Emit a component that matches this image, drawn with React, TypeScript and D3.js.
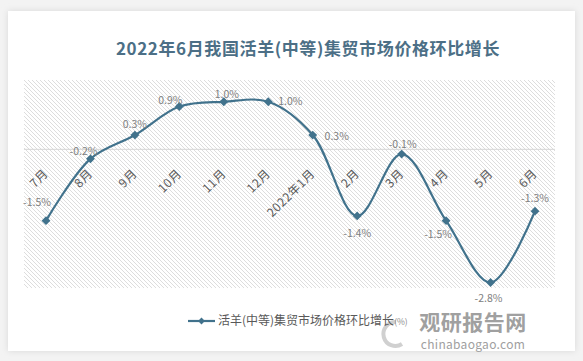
import React from "react";
import * as d3 from "d3";

const months = ["7月", "8月", "9月", "10月", "11月", "12月", "2022年1月", "2月", "3月", "4月", "5月", "6月"];
const growth = [-1.5, -0.2, 0.3, 0.9, 1.0, 1.0, 0.3, -1.4, -0.1, -1.5, -2.8, -1.3];
const valueLabels = ["-1.5%", "-0.2%", "0.3%", "0.9%", "1.0%", "1.0%", "0.3%", "-1.4%", "-0.1%", "-1.5%", "-2.8%", "-1.3%"];
// label placement offsets (layout only)
const labelOffsets: [number, number][] = [
  [-9, -18], [-7, -8], [0, -11], [-9, -6], [3, -7], [22, 0],
  [24, 1], [0, 17], [1, -10], [-8, 14], [-2, 16], [0, -13],
];

const title = "2022年6月我国活羊(中等)集贸市场价格环比增长";
const seriesName = "活羊(中等)集贸市场价格环比增长";
const seriesUnit = "(%)";

const W = 583, H = 361;
const LINE = "#41728c";
const FONT = "'Noto Sans CJK SC', 'Noto Sans', sans-serif";

export default function App() {
  const x = d3.scalePoint<string>().domain(months).range([46, 535]);
  const y = d3.scaleLinear().domain([-3, 1.5]).range([292, 78]);
  const pts = months.map((m, i) => [x(m)!, y(growth[i])] as [number, number]);
  const line = d3.line().curve(d3.curveCatmullRom.alpha(0.5))(pts) || "";
  const diamond = d3.symbol().type(d3.symbolDiamond2).size(50)() || "";

  return (
    <div style={{ position: "fixed", left: 0, top: 0 }}>
      <svg width={W} height={H} style={{ display: "block", fontFamily: FONT }}>
        <defs>
          <pattern id="hatch" patternUnits="userSpaceOnUse" width="4" height="4">
            <path d="M-1,-1 L5,5 M-1,3 L1,5 M3,-1 L5,1" stroke="#d4d4d4" strokeWidth="0.8" />
          </pattern>
          <filter id="sh" x="-5%" y="-5%" width="110%" height="110%">
            <feGaussianBlur stdDeviation="3" />
          </filter>
        </defs>
        <rect x={0} y={0} width={W} height={H} fill="#f3f3f3" />
        <rect x={8} y={11} width={567} height={340} fill="#d8d8d8" filter="url(#sh)" />
        <rect x={8} y={11} width={567} height={340} fill="#ffffff" />

        <text x={308} y={55} textAnchor="middle" fontSize={17} fontWeight="bold" fill="#4c6f86" letterSpacing="0.6">
          {title}
        </text>

        <rect x={24} y={80} width={531} height={208} fill="url(#hatch)" />
        <line x1={24} x2={555} y1={y(0)} y2={y(0)} stroke="#d6d6d6" strokeWidth={1} />

        {months.map((m) => (
          <text key={m} transform={`translate(${x(m)! + 3},${y(0) + 25}) rotate(-45)`}
            textAnchor="end" fontSize={12} letterSpacing="0.6" fill="#595959">{m}</text>
        ))}

        <path d={line} fill="none" stroke={LINE} strokeWidth={2.2} />
        {pts.map((p, i) => (
          <path key={i} d={diamond} transform={`translate(${p[0]},${p[1]})`} fill={LINE} />
        ))}
        {pts.map((p, i) => (
          <text key={"l" + i} x={p[0] + labelOffsets[i][0]} y={p[1] + labelOffsets[i][1]} dy="0.35em"
            textAnchor="middle" fontSize={10.5} fill="#808080">{valueLabels[i]}</text>
        ))}

        <path d="M396,322 A12,12 0 1,0 402,344" fill="none" stroke="#d0d0d0" strokeWidth={4} />

        <g>
          <line x1={188} x2={215} y1={321} y2={321} stroke={LINE} strokeWidth={2.2} />
          <path d={d3.symbol().type(d3.symbolDiamond2).size(30)() || ""} transform="translate(201.5,321)" fill={LINE} />
          <text x={218} y={321} dy="0.35em" fontSize={12} fill="#595959">
            {seriesName}<tspan fontSize={8.5} fill="#8a8a8a">{seriesUnit}</tspan>
          </text>
        </g>

        <g>
          <text x={473} y={323} dy="0.35em" textAnchor="middle" fontSize={21} fontWeight="bold" fill="#a0a0a0" letterSpacing="0.5">观研报告网</text>
          <text x={473} y={345} dy="0.35em" textAnchor="middle" fontSize={12} fill="#a0a0a0" letterSpacing="0.3">chinabaogao.com</text>
        </g>
      </svg>
    </div>
  );
}
